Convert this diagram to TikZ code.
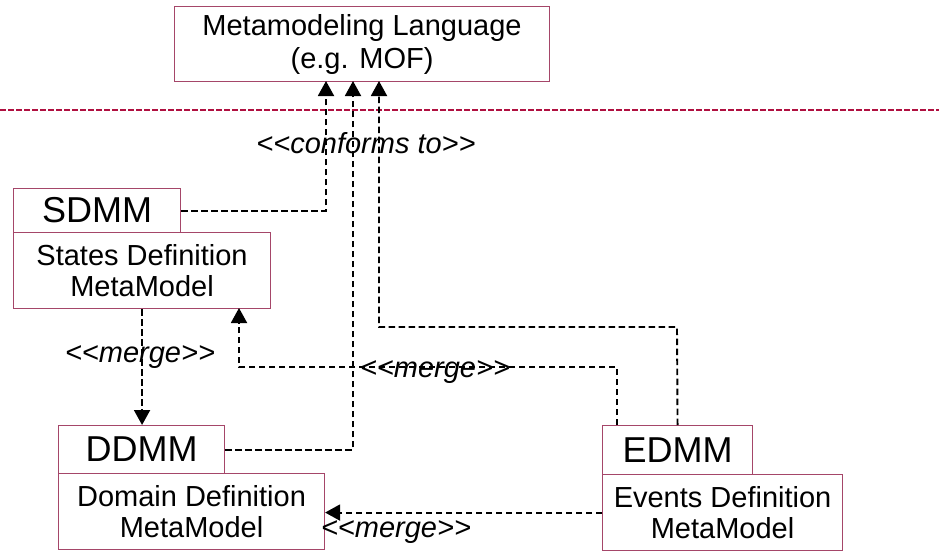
\documentclass[tikz,border=0pt]{standalone}
\usepackage{fontspec}
\setmainfont{Liberation Sans}
\usetikzlibrary{arrows.meta}
\definecolor{boxline}{RGB}{165,70,105}
\definecolor{levelline}{RGB}{176,16,64}
% guillemet-like pairs kept as two separate characters
\newcommand\lgl{<\kern0pt<}
\newcommand\rgr{>\kern0pt>}
\tikzset{
  box/.style={draw=boxline, line width=1.1pt, fill=white, inner sep=0pt,
    anchor=north west, align=center, font=\fontsize{29}{31}\selectfont},
  tab/.style={box, font=\fontsize{36}{38}\selectfont},
  dep/.style={draw=black, line width=1.9pt, dash pattern=on 6.5pt off 3.5pt,
    -{Triangle[length=15pt,width=16pt]}},
  lbl/.style={inner sep=0pt, font=\fontsize{29}{31}\selectfont\itshape},
}
\begin{document}
\begin{tikzpicture}[x=1pt,y=-1pt]
\useasboundingbox (0,0) rectangle (939,551);

% metamodel level separator
\coordinate (sepL) at (0,110);
\coordinate (sepR) at (939,110);
\draw[levelline, line width=1.8pt, dash pattern=on 5.5pt off 2.5pt] (sepL) -- (sepR);

% top level
\node[box, minimum width=375pt, minimum height=75pt,
  font=\fontsize{29}{33}\selectfont] (mml) at (174,6)
  {Metamodeling Language\\(e.g. MOF)};

% SDMM package
\node[tab, minimum width=167pt, minimum height=44pt] (sdmm) at (13,188) {SDMM};
\node[box, minimum width=257pt, minimum height=76pt] (sdmmb) at (13,232)
  {States Definition\\MetaModel};

% DDMM package
\node[tab, minimum width=166pt, minimum height=48pt] (ddmm) at (58,425) {DDMM};
\node[box, minimum width=266pt, minimum height=76pt] (ddmmb) at (58,473)
  {Domain Definition\\MetaModel};

% EDMM package
\node[tab, minimum width=150pt, minimum height=49pt] (edmm) at (602,425) {EDMM};
\node[box, minimum width=240pt, minimum height=76pt] (edmmb) at (602,474)
  {Events Definition\\MetaModel};

% conformance dependencies
\coordinate (c1) at (326,81);
\coordinate (c2) at (353,81);
\coordinate (c3) at (379,81);
\draw[dep] (sdmm.east) -| (c1);
\draw[dep] (ddmm.east) -| (c2);
\coordinate (ebend) at (677,327);
\draw[dep] (edmm.north) -- (ebend) -| (c3);
\node[lbl] (conf) at (366,143) {\lgl conforms to\rgr};

% merge dependencies
\draw[dep] (sdmmb.south) -- (ddmm.north -| sdmmb.south);
\node[lbl] (m1) at (140,357) {\lgl merge\rgr};

\coordinate (es) at (617,425);
\coordinate (eturn) at (617,367);
\coordinate (stip) at (239,308);
\draw[dep] (es) -- (eturn) -| (stip);
\node[lbl] (m2) at (435,372) {\lgl merge\rgr};

\draw[dep] (edmmb.west) -- (ddmmb.east |- edmmb.west);
\node[lbl] (m3) at (396,532) {\lgl merge\rgr};
\end{tikzpicture}
\end{document}
